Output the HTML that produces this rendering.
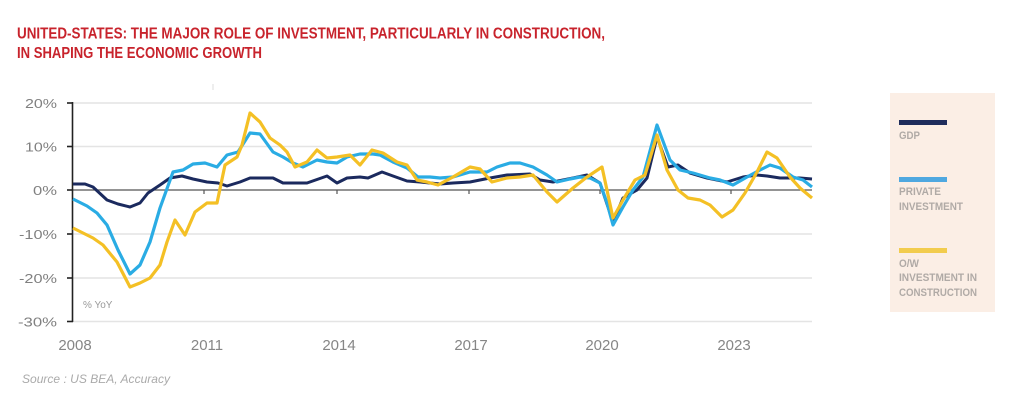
<!DOCTYPE html>
<html><head><meta charset="utf-8"><style>
html,body{margin:0;padding:0;background:#fff;}
svg{display:block;}
</style></head><body>
<svg width="1024" height="406" viewBox="0 0 1024 406" xmlns="http://www.w3.org/2000/svg">
<rect width="1024" height="406" fill="#fff"/>
<!-- title -->
<g font-family="'Liberation Sans Narrow','Liberation Sans',sans-serif" font-weight="bold" font-size="15.5" fill="#c8232c">
<text x="17" y="38.5" textLength="588" lengthAdjust="spacingAndGlyphs">UNITED-STATES: THE MAJOR ROLE OF INVESTMENT, PARTICULARLY IN CONSTRUCTION,</text>
<text x="17" y="58" textLength="245" lengthAdjust="spacingAndGlyphs">IN SHAPING THE ECONOMIC GROWTH</text>
</g>
<!-- gridlines -->
<g stroke="#e4e4e4" stroke-width="1.5">
<line x1="73" y1="103" x2="812" y2="103"/>
<line x1="73" y1="146.5" x2="812" y2="146.5"/>
<line x1="73" y1="234" x2="812" y2="234"/>
<line x1="73" y1="278" x2="812" y2="278"/>
<line x1="73" y1="321.5" x2="812" y2="321.5"/>
</g>
<!-- zero line -->
<line x1="73" y1="190" x2="812" y2="190" stroke="#555" stroke-width="1.2"/>
<g stroke="#555" stroke-width="1.2">
<line x1="204" y1="190" x2="204" y2="194"/>
<line x1="337" y1="190" x2="337" y2="194"/>
<line x1="469" y1="190" x2="469" y2="194"/>
<line x1="600" y1="190" x2="600" y2="194"/>
<line x1="731" y1="190" x2="731" y2="194"/>
</g>
<!-- y axis -->
<g stroke="#222" stroke-width="1.6">
<line x1="72.5" y1="102" x2="72.5" y2="322"/>
<line x1="67" y1="103" x2="73" y2="103"/>
<line x1="67" y1="146.5" x2="73" y2="146.5"/>
<line x1="67" y1="190" x2="73" y2="190"/>
<line x1="67" y1="234" x2="73" y2="234"/>
<line x1="67" y1="278" x2="73" y2="278"/>
<line x1="67" y1="321.5" x2="73" y2="321.5"/>
</g>
<line x1="213" y1="84" x2="213" y2="90" stroke="#ddd" stroke-width="1"/>
<!-- y labels -->
<g font-family="'Liberation Sans',sans-serif" font-size="13" fill="#808080" text-anchor="end">
<text x="57" y="108" textLength="32" lengthAdjust="spacingAndGlyphs">20%</text>
<text x="57" y="151.5" textLength="32" lengthAdjust="spacingAndGlyphs">10%</text>
<text x="57" y="195" textLength="24" lengthAdjust="spacingAndGlyphs">0%</text>
<text x="57" y="239" textLength="38" lengthAdjust="spacingAndGlyphs">-10%</text>
<text x="57" y="283" textLength="38" lengthAdjust="spacingAndGlyphs">-20%</text>
<text x="57" y="326.5" textLength="39" lengthAdjust="spacingAndGlyphs">-30%</text>
</g>
<!-- x labels -->
<g font-family="'Liberation Sans',sans-serif" font-size="15" fill="#868686" text-anchor="middle">
<text x="75" y="350">2008</text>
<text x="207" y="350">2011</text>
<text x="339" y="350">2014</text>
<text x="471" y="350">2017</text>
<text x="602" y="350">2020</text>
<text x="734" y="350">2023</text>
</g>
<text x="83" y="308" font-family="'Liberation Sans',sans-serif" font-size="10" fill="#999">% YoY</text>
<!-- series -->
<polyline fill="none" stroke="#1b2a5e" stroke-width="3" stroke-linejoin="round" points="73,184 85,184 93,187 107,200 118,204 130,207 140,203 148,193 160,185 170,178 182,176 193,179 207,182 218,183 227,186 240,182 250,178 273,178 283,183 307,183 327,176 337,183 347,178 360,177 368,178 382,172 393,176 407,181 420,182 440,184 453,183 470,182 490,178 507,175 530,174 540,180 553,182 573,178 587,175 600,183 613,222 623,198 637,190 647,178 657,137 668,167 678,165 690,173 707,178 727,182 743,177 757,175 767,176 780,178 800,178 812,179"/>
<polyline fill="none" stroke="#2aace4" stroke-width="3.2" stroke-linejoin="round" points="73,199 87,206 97,213 107,225 118,250 130,274 140,265 150,242 160,208 173,172 183,170 193,164 205,163 217,167 227,155 238,152 250,133 260,134 273,152 283,157 293,163 303,167 317,160 327,162 337,163 347,157 360,154 373,154 380,155 393,162 407,168 418,177 430,177 440,178 453,177 470,172 487,172 497,167 510,163 520,163 533,167 547,175 557,182 570,179 580,177 590,178 600,183 607,203 613,225 623,207 633,190 643,177 657,125 670,160 680,170 693,173 710,178 720,180 733,185 747,177 760,170 770,165 780,168 793,177 803,180 812,187"/>
<polyline fill="none" stroke="#f4c025" stroke-width="3.2" stroke-linejoin="round" points="73,228 93,238 103,245 117,262 130,287 140,283 150,278 160,265 167,242 175,220 185,235 195,212 207,203 217,203 225,165 237,157 242,145 250,113 260,122 270,138 280,145 287,152 295,167 307,162 317,150 327,158 337,157 350,155 360,165 372,150 383,153 397,162 407,165 417,180 427,182 438,185 453,177 470,167 480,169 492,182 507,178 520,177 533,175 547,192 557,202 573,188 587,177 602,167 613,218 623,200 635,180 645,175 657,135 667,170 678,190 688,198 700,200 710,205 722,217 733,210 745,193 757,172 767,152 777,158 790,177 800,188 812,198"/>
<!-- source -->
<text x="22" y="383" font-family="'Liberation Sans',sans-serif" font-style="italic" font-size="12" fill="#aaa" textLength="148" lengthAdjust="spacingAndGlyphs">Source : US BEA, Accuracy</text>
<!-- legend -->
<rect x="890" y="93" width="105" height="219" fill="#fbeee5"/>
<rect x="899" y="120" width="48" height="5" fill="#1f2d5c"/>
<rect x="899" y="177" width="48" height="5" fill="#4fa8e0"/>
<rect x="899" y="248" width="48" height="5" fill="#f2cc4e"/>
<g font-family="'Liberation Sans Narrow','Liberation Sans',sans-serif" font-weight="bold" font-size="11" fill="#b0aaa6">
<text x="899" y="139" textLength="21" lengthAdjust="spacingAndGlyphs">GDP</text>
<text x="899" y="195" textLength="42" lengthAdjust="spacingAndGlyphs">PRIVATE</text>
<text x="899" y="210" textLength="64" lengthAdjust="spacingAndGlyphs">INVESTMENT</text>
<text x="899" y="267" textLength="20" lengthAdjust="spacingAndGlyphs">O/W</text>
<text x="899" y="281" textLength="78" lengthAdjust="spacingAndGlyphs">INVESTMENT IN</text>
<text x="899" y="296" textLength="78" lengthAdjust="spacingAndGlyphs">CONSTRUCTION</text>
</g>
</svg>
</body></html>
